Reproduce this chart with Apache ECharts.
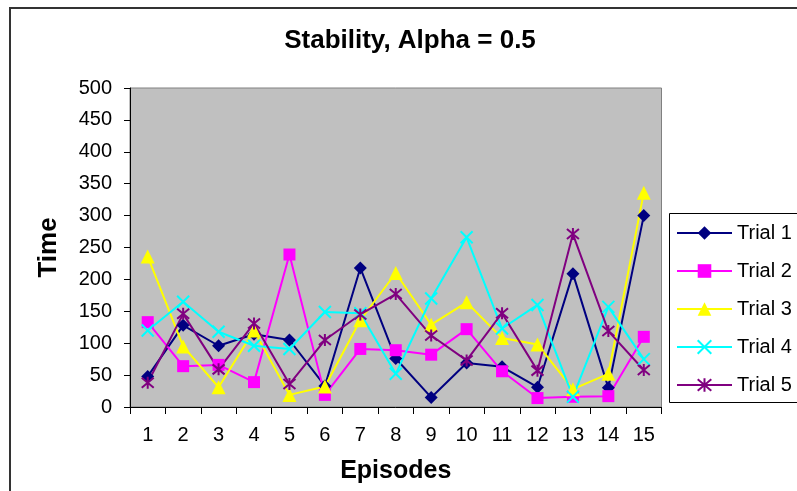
<!DOCTYPE html>
<html>
<head>
<meta charset="utf-8">
<script src="https://cdn.jsdelivr.net/npm/echarts@6/dist/echarts.min.js"></script>
<style>
  html, body { margin: 0; padding: 0; background: #fff; }
  #chart { width: 797px; height: 491px; }
</style>
</head>
<body>
<div id="chart"></div>
<script>
// Stability, Alpha = 0.5 — five trials, time per episode
const episodes = ['1', '2', '3', '4', '5', '6', '7', '8', '9', '10', '11', '12', '13', '14', '15'];
const trial1 = [48, 128, 96, 114, 105, 33, 218, 76, 15, 69, 63, 31, 209, 30, 300];
const trial2 = [133, 64, 66, 39, 239, 19, 91, 89, 82, 122, 56, 14, 16, 17, 110];
const trial3 = [236, 95, 31, 120, 19, 32, 136, 210, 129, 164, 108, 98, 28, 52, 336];
const trial4 = [120, 165, 118, 96, 91, 149, 147, 52, 170, 266, 123, 160, 16, 157, 75];
const trial5 = [38, 146, 59, 131, 36, 105, 145, 177, 112, 73, 147, 57, 271, 119, 58];

const FONT = 'Arial, "Liberation Sans", sans-serif';
const X_MARK = 'path://M0,0L10,10M10,0L0,10';
const STAR_MARK = 'path://M0,0L10,10M10,0L0,10M5,-1L5,11';

const chart = echarts.init(document.getElementById('chart'), null, { renderer: 'canvas' });

function filled(name, data, color, symbol, size) {
  return {
    name, type: 'line', data, symbol, symbolSize: size,
    animation: false,
    lineStyle: { color, width: 2 },
    itemStyle: { color, borderWidth: 0 },
  };
}

function stroked(name, data, color, symbol, size) {
  return {
    name, type: 'line', data, symbol, symbolSize: size,
    animation: false,
    lineStyle: { color, width: 2 },
    itemStyle: { color: 'none', borderColor: color, borderWidth: 2 },
  };
}

chart.setOption({
  animation: false,
  backgroundColor: '#fff',
  title: {
    text: 'Stability, Alpha = 0.5',
    left: 410, top: 28, padding: 0,
    textAlign: 'center',
    textStyle: { fontFamily: FONT, fontSize: 26, fontWeight: 'bold', color: '#000' },
  },
  graphic: [
    {
      type: 'rect', silent: true,
      shape: { x: 10, y: 8, width: 820, height: 520 },
      style: { fill: 'none', stroke: '#333', lineWidth: 2 },
    },
    // legend frame runs off the right edge, as in the original
    {
      type: 'rect', silent: true, z: -1,
      shape: { x: 669.5, y: 213.5, width: 200, height: 189 },
      style: { fill: '#fff', stroke: '#000', lineWidth: 1 },
    },
  ],
  legend: {
    orient: 'vertical',
    left: 669, top: 213,
    padding: [10, 8, 7, 7],
    itemWidth: 55, itemHeight: 17, itemGap: 18,
    borderWidth: 0,
    textStyle: { fontFamily: FONT, fontSize: 20, color: '#000', lineHeight: 20 },
    data: ['Trial 1', 'Trial 2', 'Trial 3', 'Trial 4', 'Trial 5'],
  },
  grid: {
    left: 130, top: 88, right: 135.5, bottom: 84,
    show: true, backgroundColor: '#c0c0c0', borderColor: '#808080', borderWidth: 1,
  },
  xAxis: {
    type: 'category',
    data: episodes,
    boundaryGap: true,
    name: 'Episodes',
    nameLocation: 'middle',
    nameGap: 52,
    nameTextStyle: { fontFamily: FONT, fontSize: 25, fontWeight: 'bold', color: '#000' },
    axisLine: { lineStyle: { color: '#000', width: 1 } },
    axisTick: { show: true, length: 7, alignWithLabel: false, lineStyle: { color: '#000' } },
    axisLabel: { fontFamily: FONT, fontSize: 20, color: '#000', margin: 18, interval: 0 },
    splitLine: { show: false },
  },
  yAxis: {
    type: 'value',
    min: 0, max: 500, interval: 50,
    name: 'Time',
    nameLocation: 'middle',
    nameGap: 68,
    nameRotate: 90,
    nameTextStyle: { fontFamily: FONT, fontSize: 26, fontWeight: 'bold', color: '#000' },
    axisLine: { show: true, lineStyle: { color: '#000', width: 1 } },
    axisTick: { show: true, length: 6, lineStyle: { color: '#000' } },
    axisLabel: { fontFamily: FONT, fontSize: 20, color: '#000', margin: 18 },
    splitLine: { show: false },
  },
  series: [
    filled('Trial 1', trial1, '#000080', 'diamond', 13),
    filled('Trial 2', trial2, '#ff00ff', 'rect', 12),
    filled('Trial 3', trial3, '#ffff00', 'triangle', 14),
    stroked('Trial 4', trial4, '#00ffff', X_MARK, 12),
    stroked('Trial 5', trial5, '#800080', STAR_MARK, 12),
  ],
});
</script>
</body>
</html>
